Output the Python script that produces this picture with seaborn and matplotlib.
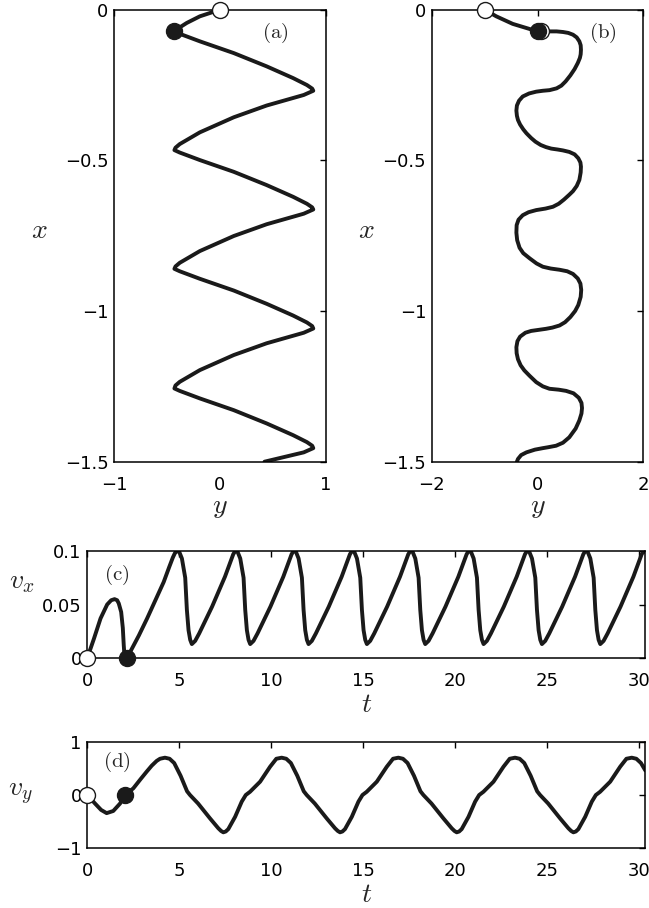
import numpy as np
import pandas as pd
import matplotlib
matplotlib.use('Agg')
import matplotlib.pyplot as plt
import seaborn as sns

# ---- trajectory (a): y horizontal, x vertical ----
traj_a_y = [
    0.0, -0.19, -0.314, -0.39, -0.43,
    -0.38, -0.19, 0.13, 0.44, 0.69, 0.82, 0.87, 0.88,
    0.79, 0.44, 0.13, -0.19, -0.38, -0.42, -0.43,
    -0.38, -0.19, 0.13, 0.44, 0.69, 0.82, 0.87, 0.88,
    0.79, 0.44, 0.13, -0.19, -0.38, -0.42, -0.43,
    -0.38, -0.19, 0.13, 0.44, 0.69, 0.82, 0.87, 0.88,
    0.79, 0.44, 0.13, -0.19, -0.38, -0.42, -0.43,
    -0.38, -0.19, 0.13, 0.44, 0.69, 0.82, 0.87, 0.88,
    0.79, 0.42,
]
traj_a_x = [
    0.0, -0.022, -0.044, -0.061, -0.072,
    -0.080, -0.105, -0.144, -0.188, -0.227, -0.250, -0.262, -0.269,
    -0.283, -0.318, -0.357, -0.407, -0.446, -0.458, -0.466,
    -0.474, -0.499, -0.538, -0.582, -0.621, -0.644, -0.656, -0.663,
    -0.677, -0.712, -0.751, -0.801, -0.840, -0.852, -0.860,
    -0.868, -0.893, -0.932, -0.976, -1.015, -1.038, -1.050, -1.058,
    -1.072, -1.107, -1.146, -1.196, -1.235, -1.247, -1.257,
    -1.265, -1.290, -1.329, -1.373, -1.412, -1.435, -1.447, -1.455,
    -1.469, -1.50,
]

# ---- trajectory (b) ----
traj_b_y = [
    -1.0, -0.78, -0.47, -0.15, 0.0,
    0.226, 0.36, 0.48, 0.58, 0.67, 0.74, 0.79, 0.815, 0.82, 0.815, 0.80, 0.76,
    0.70, 0.62, 0.53, 0.45, 0.36, 0.226, 0.1,
    -0.025, -0.16, -0.28, -0.35, -0.39, -0.40, -0.39, -0.37, -0.33, -0.27,
    -0.21, -0.12, -0.04, 0.06, 0.16, 0.26, 0.38, 0.48, 0.6, 0.7, 0.77, 0.81,
    0.82, 0.815, 0.79, 0.74, 0.67, 0.6, 0.5, 0.4, 0.29, 0.15,
    -0.025, -0.17, -0.28, -0.36, -0.395, -0.40, -0.385, -0.34, -0.27, -0.15,
    -0.02, 0.1, 0.25, 0.415, 0.56, 0.67, 0.76, 0.81, 0.825, 0.815, 0.77,
    0.71, 0.62, 0.52, 0.415, 0.28, 0.16, 0.0, -0.12, -0.23, -0.33, -0.38,
    -0.40, -0.395, -0.37, -0.32, -0.25, -0.15, -0.025, 0.1, 0.226, 0.4, 0.54,
    0.68, 0.78, 0.83, 0.84, 0.83, 0.79, 0.72, 0.6, 0.48, 0.35, 0.2, 0.1,
    -0.05, -0.21, -0.31, -0.37, -0.39,
]
traj_b_x = [
    0.0, -0.022, -0.047, -0.064, -0.072,
    -0.072, -0.072, -0.074, -0.077, -0.083, -0.092, -0.105, -0.118, -0.133, -0.148, -0.160, -0.177,
    -0.197, -0.218, -0.238, -0.252, -0.261, -0.267, -0.269,
    -0.272, -0.278, -0.288, -0.302, -0.318, -0.335, -0.352, -0.366, -0.381, -0.397,
    -0.410, -0.426, -0.438, -0.449, -0.456, -0.461, -0.464, -0.467, -0.472, -0.480, -0.493, -0.507,
    -0.521, -0.540, -0.565, -0.585, -0.602, -0.614, -0.630, -0.644, -0.654, -0.660,
    -0.665, -0.672, -0.682, -0.697, -0.715, -0.740, -0.765, -0.790, -0.808, -0.825,
    -0.842, -0.853, -0.859, -0.863, -0.868, -0.877, -0.892, -0.909, -0.930, -0.953, -0.980,
    -1.000, -1.020, -1.037, -1.048, -1.055, -1.059, -1.063, -1.066, -1.072, -1.085, -1.100,
    -1.120, -1.140, -1.160, -1.180, -1.197, -1.215, -1.236, -1.250, -1.258, -1.261, -1.265,
    -1.273, -1.288, -1.305, -1.322, -1.340, -1.363, -1.390, -1.419, -1.437, -1.447, -1.452, -1.455,
    -1.460, -1.469, -1.478, -1.491, -1.50,
]

# ---- (c) v_x(t) ----
t_c = [
    0, 0.36, 0.72, 1.08, 1.3, 1.48, 1.62, 1.71, 1.84, 1.93, 1.98, 2.02, 2.1, 2.17,
    2.34, 2.8, 3.25, 3.7, 4.15, 4.45, 4.65, 4.76, 4.87,
    5.00, 5.14, 5.32, 5.41, 5.50, 5.59, 5.68, 5.86, 6.08, 6.78, 7.48, 7.78, 7.93, 8.04,
    8.17, 8.31, 8.49, 8.58, 8.67, 8.76, 8.85, 9.03, 9.25, 9.95, 10.65, 10.95, 11.10, 11.21,
    11.34, 11.48, 11.66, 11.75, 11.84, 11.93, 12.02, 12.20, 12.42, 13.12, 13.82, 14.12, 14.27, 14.38,
    14.51, 14.65, 14.83, 14.92, 15.01, 15.10, 15.19, 15.37, 15.59, 16.29, 16.99, 17.29, 17.44, 17.55,
    17.68, 17.82, 18.00, 18.09, 18.18, 18.27, 18.36, 18.54, 18.76, 19.46, 20.16, 20.46, 20.61, 20.72,
    20.85, 20.99, 21.17, 21.26, 21.35, 21.44, 21.53, 21.71, 21.93, 22.63, 23.33, 23.63, 23.78, 23.89,
    24.02, 24.16, 24.34, 24.43, 24.52, 24.61, 24.70, 24.88, 25.10, 25.80, 26.50, 26.80, 26.95, 27.06,
    27.19, 27.33, 27.51, 27.60, 27.69, 27.78, 27.87, 28.05, 28.27, 28.97, 29.67, 29.97, 30.12, 30.23,
    30.32,
]
v_c = [
    0, 0.018, 0.037, 0.05, 0.054, 0.055, 0.054, 0.051, 0.043, 0.028, 0.012, 0.002, 0.0, 0.0,
    0.006, 0.021, 0.037, 0.054, 0.071, 0.085, 0.094, 0.098, 0.1,
    0.099, 0.093, 0.075, 0.045, 0.026, 0.017, 0.013, 0.016, 0.023, 0.048, 0.076, 0.09, 0.097, 0.1,
    0.099, 0.093, 0.075, 0.045, 0.026, 0.017, 0.013, 0.016, 0.023, 0.048, 0.076, 0.09, 0.097, 0.1,
    0.099, 0.093, 0.075, 0.045, 0.026, 0.017, 0.013, 0.016, 0.023, 0.048, 0.076, 0.09, 0.097, 0.1,
    0.099, 0.093, 0.075, 0.045, 0.026, 0.017, 0.013, 0.016, 0.023, 0.048, 0.076, 0.09, 0.097, 0.1,
    0.099, 0.093, 0.075, 0.045, 0.026, 0.017, 0.013, 0.016, 0.023, 0.048, 0.076, 0.09, 0.097, 0.1,
    0.099, 0.093, 0.075, 0.045, 0.026, 0.017, 0.013, 0.016, 0.023, 0.048, 0.076, 0.09, 0.097, 0.1,
    0.099, 0.093, 0.075, 0.045, 0.026, 0.017, 0.013, 0.016, 0.023, 0.048, 0.076, 0.09, 0.097, 0.1,
    0.099, 0.093, 0.075, 0.045, 0.026, 0.017, 0.013, 0.016, 0.023, 0.048, 0.076, 0.09, 0.097, 0.1,
    0.0995,
]

# ---- (d) v_y(t) ----
t_d = [
    0, 0.42, 0.75, 1.05, 1.41, 1.78, 2.05, 2.5, 2.9, 3.23, 3.5, 3.77, 3.95, 4.22,
    4.47, 4.72, 5.07, 5.42, 5.58, 6.02, 6.67, 7.12, 7.27, 7.39, 7.52, 7.66, 8.03, 8.39, 8.61, 8.84, 9.39, 9.93, 10.27, 10.56,
    10.81, 11.06, 11.41, 11.76, 11.92, 12.36, 13.01, 13.46, 13.61, 13.73, 13.86, 14.00, 14.37, 14.73, 14.95, 15.18, 15.73, 16.27, 16.61, 16.90,
    17.15, 17.40, 17.75, 18.10, 18.26, 18.70, 19.35, 19.80, 19.95, 20.07, 20.20, 20.34, 20.71, 21.07, 21.29, 21.52, 22.07, 22.61, 22.95, 23.24,
    23.49, 23.74, 24.09, 24.44, 24.60, 25.04, 25.69, 26.14, 26.29, 26.41, 26.54, 26.68, 27.05, 27.41, 27.63, 27.86, 28.41, 28.95, 29.29, 29.58,
    29.83, 30.08, 30.32,
]
v_d = [
    0, -0.16, -0.28, -0.34, -0.30, -0.16, 0.0, 0.125, 0.30, 0.44, 0.55, 0.64, 0.68, 0.70,
    0.68, 0.60, 0.36, 0.07, 0.0, -0.16, -0.44, -0.625, -0.675, -0.70, -0.685, -0.64, -0.41, -0.125, 0.0, 0.06, 0.25, 0.53, 0.68, 0.70,
    0.68, 0.60, 0.36, 0.07, 0.0, -0.16, -0.44, -0.625, -0.675, -0.70, -0.685, -0.64, -0.41, -0.125, 0.0, 0.06, 0.25, 0.53, 0.68, 0.70,
    0.68, 0.60, 0.36, 0.07, 0.0, -0.16, -0.44, -0.625, -0.675, -0.70, -0.685, -0.64, -0.41, -0.125, 0.0, 0.06, 0.25, 0.53, 0.68, 0.70,
    0.68, 0.60, 0.36, 0.07, 0.0, -0.16, -0.44, -0.625, -0.675, -0.70, -0.685, -0.64, -0.41, -0.125, 0.0, 0.06, 0.25, 0.53, 0.68, 0.70,
    0.68, 0.60, 0.46,
]

# start (open) and t=2 (filled) markers
open_a, fill_a = (0.0, 0.0), (-0.43, -0.072)
open_b, halo_b, fill_b = (-1.0, 0.0), (0.06, -0.072), (0.0, -0.072)
open_c, fill_c = (0.0, 0.0), (2.15, 0.0)
open_d, fill_d = (0.0, 0.0), (2.05, 0.0)

sns.set_style("white")
plt.rcParams['font.family'] = ['DejaVu Sans']
plt.rcParams['mathtext.fontset'] = 'cm'

LINE = '#1a1a1a'
LW = 2.8
MS = 11.5

fig = plt.figure(figsize=(6.49, 9.08), dpi=100)
W, H = 649, 908
ax_a = fig.add_axes([114 / W, 1 - 461.7 / H, 212 / W, 452 / H])
ax_b = fig.add_axes([431.7 / W, 1 - 461.7 / H, 211.7 / W, 452 / H])
ax_c = fig.add_axes([87.3 / W, 1 - 658 / H, 557.7 / W, 107 / H])
ax_d = fig.add_axes([87.3 / W, 1 - 848.3 / H, 557.7 / W, 106.6 / H])

M = '\u2212'


def style(ax):
    for s in ax.spines.values():
        s.set_visible(True)
        s.set_color('black')
        s.set_linewidth(1.1)
    ax.tick_params(direction='in', length=4, width=1, top=True, right=True,
                   labelsize=13, pad=4, colors='black')
    ax.tick_params(axis='x', pad=10)


def dots(ax, pts, face):
    for (px, py), fc in zip(pts, face):
        ax.plot([px], [py], 'o', ms=MS, mfc=fc, mec=LINE, mew=1.0,
                clip_on=False, zorder=5)


# ---- (a) ----
da = pd.DataFrame({'y': traj_a_y, 'x': traj_a_x})
sns.lineplot(data=da, x='y', y='x', sort=False, estimator=None, color=LINE,
             lw=LW, ax=ax_a)
dots(ax_a, [open_a, fill_a], ['white', LINE])
ax_a.set_xlim(-1, 1)
ax_a.set_ylim(-1.5, 0)
ax_a.set_xticks([-1, 0, 1], [M + '1', '0', '1'])

# ---- (b) ----
db = pd.DataFrame({'y': traj_b_y, 'x': traj_b_x})
sns.lineplot(data=db, x='y', y='x', sort=False, estimator=None, color=LINE,
             lw=LW, ax=ax_b)
dots(ax_b, [open_b, halo_b, fill_b], ['white', 'white', LINE])
ax_b.set_xlim(-2, 2)
ax_b.set_ylim(-1.5, 0)
ax_b.set_xticks([-2, 0, 2], [M + '2', '0', '2'])

for ax, lx, tag, tx in [(ax_a, -0.35, '(a)', 0.76), (ax_b, -0.307, '(b)', 0.807)]:
    style(ax)
    ax.set_yticks([-1.5, -1, -0.5, 0], [M + '1.5', M + '1', M + '0.5', '0'])
    ax.set_ylabel(r'$x$', fontsize=20, rotation=0, va='center', ha='center')
    ax.yaxis.set_label_coords(lx, 0.513)
    ax.set_xlabel(r'$y$', fontsize=20, labelpad=-1)
    ax.text(tx, 0.949, r'$\mathrm{' + tag + '}$', transform=ax.transAxes,
            fontsize=15, ha='center', va='center')

# ---- (c) ----
dc = pd.DataFrame({'t': t_c, 'v': v_c})
sns.lineplot(data=dc, x='t', y='v', sort=False, estimator=None, color=LINE,
             lw=LW, ax=ax_c)
dots(ax_c, [open_c, fill_c], ['white', LINE])
ax_c.set_ylim(0, 0.1)
ax_c.set_yticks([0, 0.05, 0.1], ['0', '0.05', '0.1'])
ax_c.set_ylabel(r'$v_x$', fontsize=20, rotation=0, va='center', ha='center')
ax_c.yaxis.set_label_coords(-0.117, 0.72)

# ---- (d) ----
dd = pd.DataFrame({'t': t_d, 'v': v_d})
sns.lineplot(data=dd, x='t', y='v', sort=False, estimator=None, color=LINE,
             lw=LW, ax=ax_d)
dots(ax_d, [open_d, fill_d], ['white', LINE])
ax_d.set_ylim(-1, 1)
ax_d.set_yticks([-1, 0, 1], [M + '1', '0', '1'])
ax_d.set_ylabel(r'$v_y$', fontsize=20, rotation=0, va='center', ha='center')
ax_d.yaxis.set_label_coords(-0.12, 0.52)

for ax, tag, ty in [(ax_c, '(c)', 0.776), (ax_d, '(d)', 0.81)]:
    style(ax)
    ax.set_xlim(0, 30.3)
    ax.set_xticks(range(0, 31, 5), [str(v) for v in range(0, 31, 5)])
    ax.set_xlabel(r'$t$', fontsize=20, labelpad=0)
    ax.text(0.053, ty, r'$\mathrm{' + tag + '}$', transform=ax.transAxes,
            fontsize=15, ha='center', va='center')

fig.savefig('out.png', dpi=100)
